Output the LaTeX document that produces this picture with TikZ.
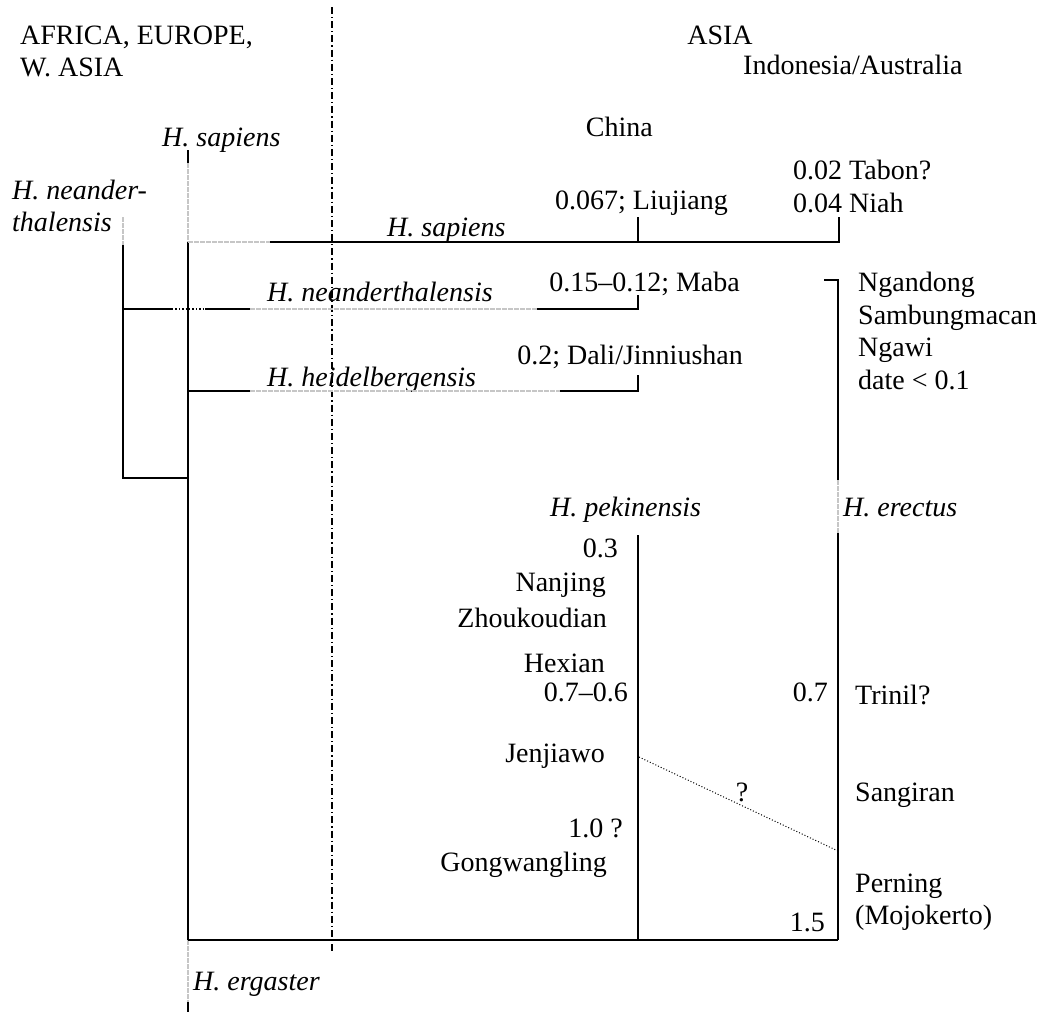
\documentclass[tikz,border=0pt]{standalone}
\usepackage{fontspec}
\setmainfont{Liberation Serif}
\begin{document}
\begin{tikzpicture}[x=1pt,y=-1pt,
  lbl/.style={inner sep=0pt,font=\fontsize{28}{33}\selectfont},
  sp/.style={lbl,font=\fontsize{28}{33}\selectfont\itshape},
  br/.style={line width=1.6pt,black},
  ghost/.style={line width=1.6pt,gray!45,dash pattern=on 5pt off 1pt},
  faint/.style={line width=1.4pt,dotted},
  border/.style={line width=1.2pt,dash pattern=on 7pt off 3pt on 1.2pt off 3pt}]
\useasboundingbox (0,0) rectangle (1040,1012);

% region headings
\node[lbl,anchor=base west] (afr1) at (20,44) {AFRICA, EUROPE,};
\node[lbl,anchor=base west] (afr2) at (20,76) {W. ASIA};
\node[lbl,anchor=base] (asia) at (720,44) {ASIA};
\node[lbl,anchor=base west] (indo) at (743,74) {Indonesia/Australia};
\node[lbl,anchor=base east] (china) at (653,136) {China};

% boundary between the regions
\coordinate (bdTop) at (332,7);
\coordinate (bdBot) at (332,953);
\draw[border] (bdTop) -- (bdBot);

% species labels
\node[sp,anchor=base west] (sapTop) at (162,146) {H. sapiens};
\node[sp,anchor=base west] (nea1) at (12,199) {H. neander-};
\node[sp,anchor=base west] (nea2) at (12,231) {thalensis};
\node[sp,anchor=base west] (sapMid) at (387,236) {H. sapiens};
\node[sp,anchor=base west] (neaMid) at (267,301) {H. neanderthalensis};
\node[sp,anchor=base west] (heiMid) at (267,386) {H. heidelbergensis};
\node[sp,anchor=base west] (pek) at (550,516) {H. pekinensis};
\node[sp,anchor=base west] (ere) at (843,516) {H. erectus};
\node[sp,anchor=base west] (erg) at (193,990) {H. ergaster};

% site labels, China
\node[lbl,anchor=base east] (liu) at (728,209) {0.067; Liujiang};
\node[lbl,anchor=base east] (maba) at (740,291) {0.15--0.12; Maba};
\node[lbl,anchor=base east] (dali) at (743,364) {0.2; Dali/Jinniushan};
\node[lbl,anchor=base east] (d03) at (618,557) {0.3};
\node[lbl,anchor=base east] (nanj) at (606,591) {Nanjing};
\node[lbl,anchor=base east] (zhou) at (607,627) {Zhoukoudian};
\node[lbl,anchor=base east] (hex) at (605,672) {Hexian};
\node[lbl,anchor=base east] (d076) at (628,701) {0.7--0.6};
\node[lbl,anchor=base east] (jen) at (605,762) {Jenjiawo};
\node[lbl,anchor=base east] (d10) at (623,837) {1.0 ?};
\node[lbl,anchor=base east] (gong) at (607,871) {Gongwangling};

% site labels, Indonesia/Australia
\node[lbl,anchor=base west] (tab) at (793,179) {0.02 Tabon?};
\node[lbl,anchor=base west] (niah) at (793,212) {0.04 Niah};
\node[lbl,anchor=base west] (ngan) at (858,291) {Ngandong};
\node[lbl,anchor=base west] (samb) at (858,324) {Sambungmacan};
\node[lbl,anchor=base west] (ngaw) at (858,356) {Ngawi};
\node[lbl,anchor=base west] (date) at (858,389) {date < 0.1};
\node[lbl,anchor=base east] (d07) at (828,701) {0.7};
\node[lbl,anchor=base west] (tri) at (855,704) {Trinil?};
\node[lbl,anchor=base west] (sang) at (855,801) {Sangiran};
\node[lbl,anchor=base west] (per) at (855,892) {Perning};
\node[lbl,anchor=base west] (moj) at (855,924) {(Mojokerto)};
\node[lbl,anchor=base east] (d15) at (825,931) {1.5};
\node[lbl,anchor=base] (qm) at (742,801) {?};

% junction points of the tree
\coordinate (tA) at (188,150);
\coordinate (tB) at (188,163);
\coordinate (tSap) at (188,242);
\coordinate (tHei) at (188,391);
\coordinate (tNea) at (188,478);
\coordinate (tBase) at (188,940);
\coordinate (tErg) at (188,1002);
\coordinate (tEnd) at (188,1012);

\coordinate (sapG) at (270,242);
\coordinate (sapLiu) at (638,242);
\coordinate (sapNiah) at (839,242);
\coordinate (liuTop) at (638,217);
\coordinate (niahTop) at (839,217);

\coordinate (nA) at (123,217);
\coordinate (nB) at (123,245);
\coordinate (nH) at (123,309);
\coordinate (nLow) at (123,478);
\coordinate (nDot1) at (172,309);
\coordinate (nDot2) at (205,309);
\coordinate (nG1) at (250,309);
\coordinate (nG2) at (537,309);
\coordinate (nEnd) at (638,309);
\coordinate (nTick) at (638,295);

\coordinate (hG1) at (250,391);
\coordinate (hG2) at (560,391);
\coordinate (hEnd) at (638,391);
\coordinate (hTick) at (638,375);

\coordinate (eTick) at (824,280);
\coordinate (eTop) at (838,280);
\coordinate (eG1) at (838,480);
\coordinate (eG2) at (838,533);
\coordinate (eBot) at (838,940);
\coordinate (eDot) at (838,851);

\coordinate (pTop) at (638,535);
\coordinate (pBot) at (638,940);
\coordinate (pDot) at (639,757);

% trunk
\draw[br] (tA) -- (tB);
\draw[ghost] (tB) -- (tSap);
\draw[br] (tSap) -- (tBase);
\draw[ghost] (tBase) -- (tErg);
\draw[br] (tErg) -- (tEnd);

% H. sapiens branch
\draw[ghost] (tSap) -- (sapG);
\draw[br] (sapG) -- (sapNiah) -- (niahTop);
\draw[br] (sapLiu) -- (liuTop);

% H. neanderthalensis branch
\draw[ghost] (nA) -- (nB);
\draw[br] (nB) -- (nLow) -- (tNea);
\draw[br] (nH) -- (nDot1);
\draw[faint] (nDot1) -- (nDot2);
\draw[br] (nDot2) -- (nG1);
\draw[ghost] (nG1) -- (nG2);
\draw[br] (nG2) -- (nEnd) -- (nTick);

% H. heidelbergensis branch
\draw[br] (tHei) -- (hG1);
\draw[ghost] (hG1) -- (hG2);
\draw[br] (hG2) -- (hEnd) -- (hTick);

% H. erectus and H. pekinensis
\draw[br] (eTick) -- (eTop) -- (eG1);
\draw[ghost] (eG1) -- (eG2);
\draw[br] (eG2) -- (eBot);
\draw[br] (pTop) -- (pBot);
\draw[br] (tBase) -- (eBot);
\draw[line width=1pt,dotted] (pDot) -- (eDot);
\end{tikzpicture}
\end{document}
